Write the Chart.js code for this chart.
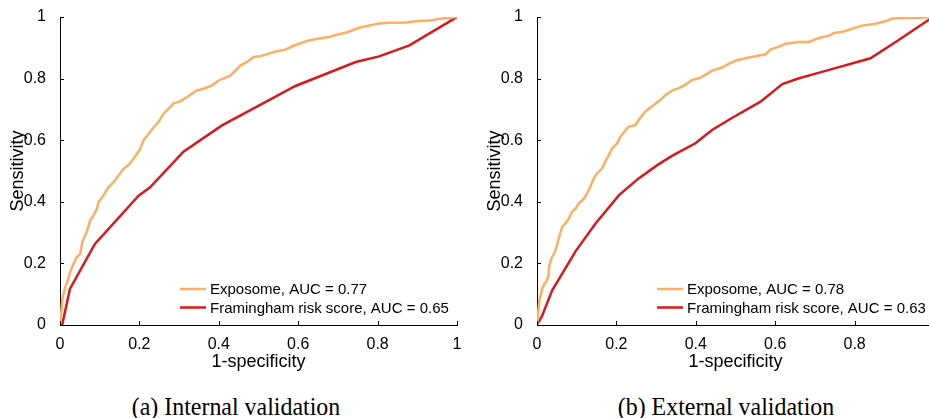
<!DOCTYPE html>
<html>
<head>
<meta charset="utf-8">
<script src="https://cdn.jsdelivr.net/npm/chart.js@4.4.1/dist/chart.umd.min.js"></script>
<style>
html, body { margin: 0; padding: 0; background: #fff; overflow: hidden; }
body { width: 929px; height: 418px; position: relative; }
.box { position: absolute; top: 0; width: 465px; height: 375px; }
.cap { position: absolute; top: 394px; font-family: "Liberation Serif", "Times New Roman", serif;
       font-size: 26px; line-height: 26px; white-space: nowrap; transform: translateX(-50%) scaleX(0.92);
       color: #000; }
</style>
</head>
<body>
<div class="box" style="left:0"><canvas id="internal" width="465" height="375"></canvas></div>
<div class="box" style="left:477px"><canvas id="external" width="465" height="375"></canvas></div>
<div class="cap" style="left:236px">(a) Internal validation</div>
<div class="cap" style="left:726px">(b) External validation</div>
<script>
// tick values and labels
const xTicks = [0, 0.2, 0.4, 0.6, 0.8, 1];
const yTicks = [0, 0.2, 0.4, 0.6, 0.8, 1];
const xTitle = '1-specificity';
const yTitle = 'Sensitivity';

// (a) internal validation
const intExpoLabel = 'Exposome, AUC = 0.77';
const intExpoX = [0,0.003,0.006,0.013,0.021,0.025,0.034,0.042,0.051,0.056,0.067,0.076,0.084,0.093,0.097,0.109,0.122,0.135,0.147,0.160,0.173,0.185,0.194,0.202,0.210,0.223,0.236,0.248,0.261,0.269,0.282,0.286,0.303,0.320,0.332,0.345,0.362,0.383,0.400,0.417,0.429,0.442,0.455,0.471,0.488,0.505,0.526,0.543,0.568,0.585,0.602,0.627,0.652,0.678,0.699,0.720,0.737,0.753,0.774,0.791,0.804,0.829,0.871,0.896,0.930,0.964,1];
const intExpoY = [0,0.041,0.085,0.122,0.150,0.171,0.198,0.220,0.231,0.269,0.301,0.339,0.355,0.377,0.399,0.420,0.447,0.464,0.485,0.507,0.520,0.540,0.556,0.572,0.599,0.621,0.642,0.659,0.686,0.697,0.713,0.720,0.726,0.740,0.751,0.762,0.767,0.778,0.794,0.803,0.810,0.827,0.843,0.854,0.870,0.873,0.881,0.888,0.894,0.905,0.913,0.924,0.930,0.935,0.943,0.949,0.957,0.965,0.971,0.976,0.979,0.981,0.982,0.986,0.989,0.995,1];
const intFramLabel = 'Framingham risk score, AUC = 0.65';
const intFramX = [0,0.006,0.025,0.088,0.198,0.227,0.311,0.408,0.509,0.593,0.745,0.804,0.880,1];
const intFramY = [0,0.003,0.117,0.263,0.420,0.447,0.563,0.648,0.718,0.776,0.854,0.872,0.908,1];

// (b) external validation
const extExpoLabel = 'Exposome, AUC = 0.78';
const extExpoX = [0,0.003,0.006,0.013,0.019,0.025,0.029,0.031,0.036,0.045,0.050,0.056,0.063,0.071,0.080,0.088,0.097,0.105,0.118,0.126,0.134,0.143,0.151,0.164,0.172,0.181,0.189,0.202,0.210,0.223,0.231,0.248,0.256,0.269,0.277,0.294,0.311,0.324,0.340,0.357,0.374,0.391,0.408,0.424,0.441,0.466,0.483,0.500,0.525,0.559,0.576,0.588,0.609,0.626,0.660,0.685,0.710,0.735,0.748,0.773,0.794,0.819,0.853,0.878,0.895,0.920,0.954,0.987,1];
const extExpoY = [0,0.041,0.079,0.117,0.134,0.144,0.161,0.193,0.215,0.237,0.258,0.286,0.318,0.329,0.345,0.367,0.378,0.394,0.410,0.427,0.448,0.476,0.492,0.508,0.530,0.552,0.573,0.590,0.611,0.633,0.644,0.649,0.666,0.687,0.698,0.714,0.731,0.747,0.761,0.769,0.780,0.796,0.801,0.812,0.826,0.836,0.848,0.858,0.866,0.875,0.879,0.894,0.904,0.913,0.919,0.919,0.932,0.939,0.948,0.953,0.962,0.972,0.978,0.986,0.995,0.997,0.997,0.999,1];
const extFramLabel = 'Framingham risk score, AUC = 0.63';
const extFramX = [0,0.013,0.038,0.097,0.147,0.206,0.256,0.303,0.340,0.399,0.441,0.492,0.563,0.618,0.660,0.727,0.840,0.912,0.987,1];
const extFramY = [0,0.030,0.112,0.239,0.329,0.421,0.476,0.519,0.549,0.590,0.633,0.673,0.725,0.782,0.801,0.825,0.866,0.926,0.991,1];

const orange = '#fdae61';
const red = '#d7191c';
const sansFont = '"Liberation Sans", Arial, Helvetica, sans-serif';

function pairs(xs, ys) {
    return xs.map((x, i) => ({x: x, y: ys[i]}));
}

// small inward tick marks, like the original figure
const innerTicks = {
    id: 'innerTicks',
    afterDraw(chart) {
        const ctx = chart.ctx;
        const a = chart.chartArea;
        const sx = chart.scales.x, sy = chart.scales.y;
        ctx.save();
        ctx.strokeStyle = '#000';
        ctx.lineWidth = 1;
        ctx.beginPath();
        sx.ticks.forEach(t => {
            const px = Math.round(sx.getPixelForValue(t.value)) + 0.5;
            ctx.moveTo(px, a.bottom);
            ctx.lineTo(px, a.bottom - 4);
        });
        sy.ticks.forEach(t => {
            const py = Math.round(sy.getPixelForValue(t.value)) + 0.5;
            ctx.moveTo(a.left, py);
            ctx.lineTo(a.left + 4, py);
        });
        ctx.stroke();
        ctx.restore();
    }
};

// legend drawn inside the plot, bottom right
const insideLegend = {
    id: 'insideLegend',
    afterDraw(chart) {
        const ctx = chart.ctx;
        const a = chart.chartArea;
        ctx.save();
        ctx.font = '15px ' + sansFont;
        ctx.textBaseline = 'middle';
        chart.data.datasets.forEach((ds, i) => {
            const y = a.bottom - 36 + i * 18.5;
            ctx.strokeStyle = ds.borderColor;
            ctx.lineWidth = ds.borderWidth;
            ctx.beginPath();
            ctx.moveTo(a.left + 120, y);
            ctx.lineTo(a.left + 146, y);
            ctx.stroke();
            ctx.fillStyle = '#000';
            ctx.fillText(ds.label, a.left + 150, y + 1);
        });
        ctx.restore();
    }
};

function rocChart(id, expoLabel, expoX, expoY, framLabel, framX, framY) {
    return new Chart(document.getElementById(id).getContext('2d'), {
        type: 'scatter',
        data: {
            datasets: [{
                label: expoLabel,
                data: pairs(expoX, expoY),
                showLine: true,
                borderColor: orange,
                borderWidth: 2.5,
                pointRadius: 0,
                tension: 0
            }, {
                label: framLabel,
                data: pairs(framX, framY),
                showLine: true,
                borderColor: red,
                borderWidth: 2.5,
                pointRadius: 0,
                tension: 0
            }]
        },
        options: {
            responsive: false,
            animation: false,
            layout: { padding: { top: 17, right: 8, left: 0, bottom: 0 } },
            plugins: { legend: { display: false }, tooltip: { enabled: false } },
            scales: {
                x: {
                    type: 'linear', min: 0, max: 1,
                    afterBuildTicks: s => { s.ticks = xTicks.map(v => ({value: v})); },
                    afterFit: s => { s.height = 50; s.paddingLeft = 0; s.paddingRight = 0; },
                    grid: { display: false },
                    border: { display: true, color: '#000', width: 1 },
                    ticks: { color: '#000', padding: 2, font: { family: sansFont, size: 16 }, maxRotation: 0,
                             callback: v => String(v) },
                    title: { display: true, text: xTitle, color: '#000',
                             font: { family: sansFont, size: 18 }, padding: { top: 0, bottom: 2 } }
                },
                y: {
                    type: 'linear', min: 0, max: 1,
                    afterBuildTicks: s => { s.ticks = yTicks.map(v => ({value: v})); },
                    afterFit: s => { s.width = 60; s.paddingTop = 0; s.paddingBottom = 0; },
                    grid: { display: false },
                    border: { display: true, color: '#000', width: 1 },
                    ticks: { color: '#000', padding: 6, font: { family: sansFont, size: 16 },
                             callback: v => String(v) },
                    title: { display: true, text: yTitle, color: '#000',
                             font: { family: sansFont, size: 18 }, padding: { top: 7, bottom: 0 } }
                }
            }
        },
        plugins: [innerTicks, insideLegend]
    });
}

window.addEventListener('load', () => {
    rocChart('internal', intExpoLabel, intExpoX, intExpoY, intFramLabel, intFramX, intFramY);
    rocChart('external', extExpoLabel, extExpoX, extExpoY, extFramLabel, extFramX, extFramY);
});
</script>
</body>
</html>
